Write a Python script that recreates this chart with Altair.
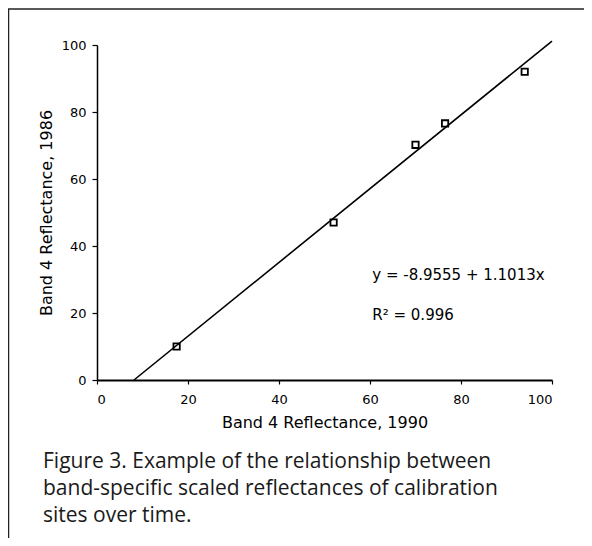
import altair as alt
import pandas as pd

# Data
x_1990 = [17.5, 52.0, 70.0, 76.5, 94.0]
y_1986 = [10.0, 47.0, 70.2, 76.6, 92.0]

intercept = -8.9555
slope = 1.1013
line_x = [-intercept / slope, 100.0]
line_y = [intercept + slope * v for v in line_x]

eq_text = ["y = -8.9555 + 1.1013x", "R\u00b2 = 0.996"]
eq_x = [60.5, 60.5]
eq_y = [31.3, 19.5]

caption = ("Figure 3. Example of the relationship between\n"
           "band-specific scaled reflectances of calibration\n"
           "sites over time.")

pts = pd.DataFrame({"x": x_1990, "y": y_1986})
ln = pd.DataFrame({"x": line_x, "y": line_y})
ann = pd.DataFrame({"x": eq_x, "y": eq_y, "t": eq_text})
one = pd.DataFrame({"a": [0]})

FONT = "DejaVu Sans"
W, H = 455, 335

xscale = alt.Scale(domain=[0, 100], nice=False, zero=False)
yscale = alt.Scale(domain=[0, 100], nice=False, zero=False)

xaxis = alt.Axis(
    title="Band 4 Reflectance, 1990", values=[0, 20, 40, 60, 80, 100],
    grid=False, domainColor="black", domainWidth=2, tickColor="black",
    tickSize=4, tickWidth=1.2, labelFont=FONT, labelFontSize=13,
    labelColor="black", labelPadding=9, titleFont=FONT, titleFontSize=16,
    titleFontWeight="normal", titleColor="black", titlePadding=8,
)
yaxis = alt.Axis(
    title="Band 4 Reflectance, 1986",
    values=[0, 10, 20, 30, 40, 50, 60, 70, 80, 90, 100],
    labelExpr="datum.value % 20 == 0 ? datum.label : ''",
    grid=False, domainColor="black", domainWidth=1.5, tickColor="black",
    tickSize=5, tickWidth=1.2, labelFont=FONT, labelFontSize=13,
    labelColor="black", labelPadding=6, titleFont=FONT, titleFontSize=16,
    titleFontWeight="normal", titleColor="black", titlePadding=7,
)

line = alt.Chart(ln).mark_line(color="black", strokeWidth=1.6, clip=False).encode(
    x=alt.X("x:Q", scale=xscale, axis=xaxis),
    y=alt.Y("y:Q", scale=yscale, axis=yaxis),
)

points = alt.Chart(pts).mark_point(
    shape="square", size=40, filled=False, color="black", strokeWidth=1.8, opacity=1
).encode(x=alt.X("x:Q", scale=xscale), y=alt.Y("y:Q", scale=yscale))

texts = alt.Chart(ann).mark_text(
    align="left", baseline="middle", font=FONT, fontSize=15, color="black"
).encode(x=alt.X("x:Q", scale=xscale), y=alt.Y("y:Q", scale=yscale), text="t:N")

cap = alt.Chart(one).mark_text(
    text=caption, lineBreak="\n", align="left", baseline="top",
    font="Open Sans", fontSize=21, lineHeight=27, color="#1a1a1a"
).encode(x=alt.value(-54), y=alt.value(406))

top_rule = alt.Chart(one).mark_rule(color="#222", strokeWidth=1.5).encode(
    x=alt.value(-89), x2=alt.value(487), y=alt.value(-36)
)
left_rule = alt.Chart(one).mark_rule(color="#222", strokeWidth=1.5).encode(
    x=alt.value(-88.5), y=alt.value(-36), y2=alt.value(493)
)

chart = alt.layer(top_rule, left_rule, line, points, texts, cap).properties(
    width=W, height=H,
    autosize=alt.AutoSizeParams(type="none"),
    padding={"left": 89, "top": 37, "right": 32, "bottom": 158},
    background="white",
).configure_view(stroke=None)

chart.save("out.html", embed_options={"renderer": "svg", "actions": False})
